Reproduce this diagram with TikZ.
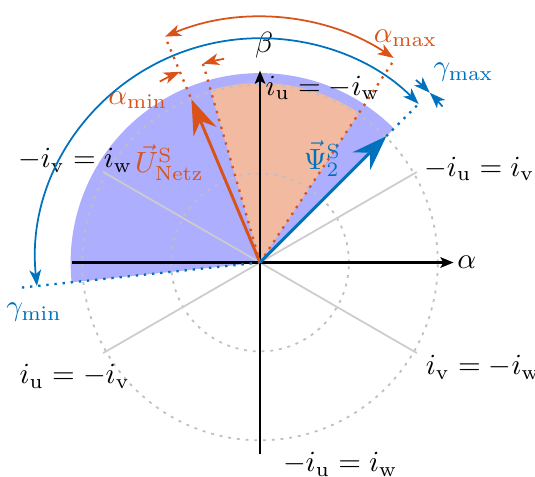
\documentclass[tikz,border=0pt]{standalone}
\usepackage{tikz}
\usetikzlibrary{arrows.meta}
\definecolor{mlBlue}{HTML}{0072BD}
\definecolor{mlOrange}{HTML}{D95319}
\definecolor{sectBlue}{HTML}{AEAEFF}
\definecolor{sectOrange}{HTML}{F2BBA1}

\tikzset{
  lbl/.style={inner sep=0pt},
  axisline/.style={thick, -{Stealth[length=4.5pt,width=3.6pt,inset=1pt]}},
  vecarrow/.style={line width=1pt, -{Stealth[length=12pt,width=8.5pt,inset=4pt]}},
  anglearc/.style={semithick, {Stealth[length=5.5pt,width=4pt,inset=1.5pt]}-{Stealth[length=5.5pt,width=4pt,inset=1.5pt]}},
  anglemark/.style={semithick, -{Stealth[length=5.5pt,width=4pt,inset=1.5pt]}},
  helpline/.style={thick, dotted}
}

\begin{document}
\begin{tikzpicture}
  \useasboundingbox (-3.13,-2.58) rectangle (3.31,3.16);
  \coordinate (O) at (0,0);
  % sectors
  \fill[sectBlue] (O) -- (45:2.28) arc (45:186:2.28) -- cycle;
  \fill[sectOrange] (O) -- (56.5:2.16) arc (56.5:106:2.16) -- cycle;
  % grid
  \draw[gray!50, semithick, dash pattern=on 1pt off 2pt] (O) circle (1.07);
  \draw[gray!50, semithick, dash pattern=on 1pt off 2pt] (O) circle (2.14);
  \foreach \a in {30,150,210,330}
    \draw[black!20, semithick] (O) -- (\a:2.18);
  % axes
  \coordinate (aL) at (-2.26,0);
  \coordinate (aR) at (2.33,0);
  \coordinate (bD) at (0,-2.31);
  \coordinate (bU) at (0,2.31);
  \draw[axisline] (aL) -- (aR);
  \draw[axisline] (bD) -- (bU);
  \node[lbl] (alpha) at (2.49,0) {$\alpha$};
  \node[lbl] (beta) at (0.05,2.61) {$\beta$};
  % phase labels
  \node[lbl, anchor=west] (l90) at (0.06,2.1) {$i_\mathrm{u} = -i_\mathrm{w}$};
  \node[lbl, anchor=west] (l30) at (1.97,1.13) {$-i_\mathrm{u} = i_\mathrm{v}$};
  \node[lbl, anchor=east] (l150) at (-1.53,1.23) {$-i_\mathrm{v} = i_\mathrm{w}$};
  \node[lbl, anchor=east] (l210) at (-1.56,-1.37) {$i_\mathrm{u} = -i_\mathrm{v}$};
  \node[lbl, anchor=west] (l330) at (1.99,-1.26) {$i_\mathrm{v} = -i_\mathrm{w}$};
  \node[lbl, anchor=west] (l270) at (0.27,-2.43) {$-i_\mathrm{u} = i_\mathrm{w}$};
  % alpha limits
  \coordinate (amax) at (56.5:2.90);
  \coordinate (amin) at (112.8:2.95);
  \coordinate (aminIn) at (106:2.49);
  \draw[mlOrange, helpline] (O) -- (amax);
  \draw[mlOrange, helpline] (O) -- (amin);
  \draw[mlOrange, helpline] (O) -- (aminIn);
  \draw[mlOrange, anglearc] (amin) arc (112.8:56.5:2.93);
  \draw[mlOrange, anglemark] (119:2.49) arc (119:112.8:2.49);
  \draw[mlOrange, anglemark] (100:2.49) arc (100:106:2.49);
  \node[lbl, text=mlOrange] (amaxlbl) at (1.75,2.70) {$\alpha_\mathrm{max}$};
  \node[lbl, text=mlOrange] (aminlbl) at (-1.47,1.95) {$\alpha_\mathrm{min}$};
  % gamma limits
  \coordinate (psi) at (45:2.15);
  \coordinate (gmax) at (45:2.71);
  \coordinate (gmin) at (186:2.92);
  \draw[mlBlue, helpline] (psi) -- (gmax);
  \draw[mlBlue, helpline] (O) -- (gmin);
  \draw[mlBlue, anglearc] (186:2.70) arc (186:45:2.70);
  \draw[mlBlue, anglemark] (49.5:2.89) arc (49.5:45:2.89);
  \draw[mlBlue, anglemark] (40.5:2.89) arc (40.5:45:2.89);
  \node[lbl, text=mlBlue] (gmaxlbl) at (2.45,2.29) {$\gamma_\mathrm{max}$};
  \node[lbl, text=mlBlue] (gminlbl) at (-2.72,-0.6) {$\gamma_\mathrm{min}$};
  % vectors
  \coordinate (unetz) at (112.8:2.13);
  \draw[mlOrange, vecarrow] (O) -- (unetz);
  \draw[mlBlue, vecarrow] (O) -- (psi);
  \node[lbl, anchor=west, text=mlOrange] (ulbl) at (-1.51,1.2) {$\vec{U}^\mathrm{S}_\mathrm{Netz}$};
  \node[lbl, text=mlBlue] (psilbl) at (0.75,1.25) {$\vec{\Psi}^\mathrm{S}_2$};
\end{tikzpicture}
\end{document}
